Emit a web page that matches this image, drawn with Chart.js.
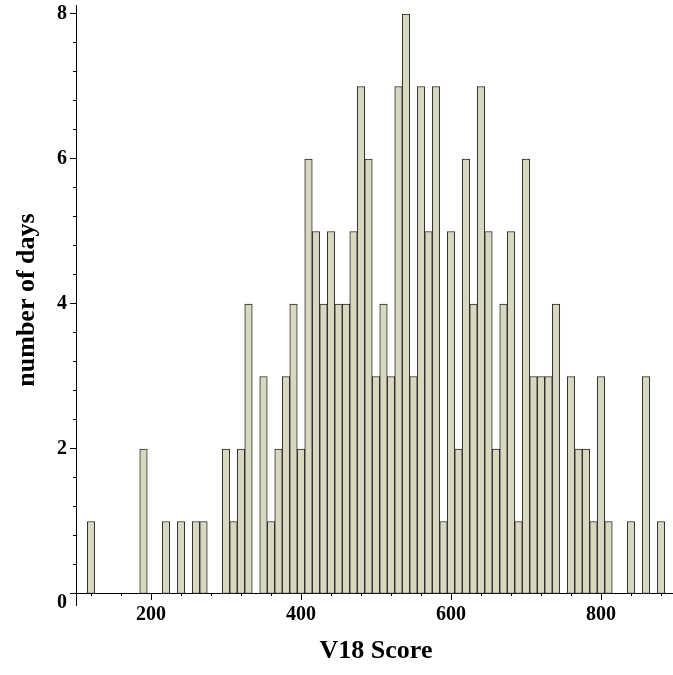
<!DOCTYPE html>
<html>
<head>
<meta charset="utf-8">
<script src="https://cdn.jsdelivr.net/npm/chart.js@4/dist/chart.umd.min.js"></script>
<style>
  html, body { margin: 0; padding: 0; background: #ffffff; }
  #wrap { width: 673px; height: 675px; position: relative; }
</style>
</head>
<body>
<div id="wrap"><canvas id="c" width="673" height="675"></canvas></div>
<script>
// Histogram bins: centre of each 10-unit bin (115-125 -> 120, ... 875-885 -> 880)
const binCenters = [
  120,130,140,150,160,170,180,190,200,210,
  220,230,240,250,260,270,280,290,300,310,
  320,330,340,350,360,370,380,390,400,410,
  420,430,440,450,460,470,480,490,500,510,
  520,530,540,550,560,570,580,590,600,610,
  620,630,640,650,660,670,680,690,700,710,
  720,730,740,750,760,770,780,790,800,810,
  820,830,840,850,860,870,880
];
// number of days in each bin
const dayCounts = [
  1,0,0,0,0,0,0,2,0,0,
  1,0,1,0,1,1,0,0,2,1,
  2,4,0,3,1,2,3,4,2,6,
  5,4,5,4,4,5,7,6,3,4,
  3,7,8,3,7,5,7,1,5,2,
  6,4,7,5,2,4,5,1,6,3,
  3,3,4,0,3,2,2,1,3,1,
  0,0,1,0,3,0,1
];
const xTicks = [120,160,200,240,280,320,360,400,440,480,520,560,600,640,680,720,760,800,840,880];
const xLabelled = [200,400,600,800];
const yTicks = [0,0.4,0.8,1.2,1.6,2,2.4,2.8,3.2,3.6,4,4.4,4.8,5.2,5.6,6,6.4,6.8,7.2,7.6,8];
const yLabelled = [2,4,6,8];
const yZeroLabel = [0];
const xTitle = 'V18 Score';
const yTitle = 'number of days';

const tickFont = { family: 'Liberation Serif', size: 20, weight: 'bold' };
const titleFont = 'bold 26px "Liberation Serif"';

const points = binCenters.map((x, i) => ({ x: x, y: dayCounts[i] === 0 ? null : dayCounts[i] }));

function setTicks(list) {
  return function (scale) { scale.ticks = list.map(v => ({ value: v })); };
}
function noPad(scale) {
  scale.paddingLeft = 0; scale.paddingRight = 0; scale.paddingTop = 0; scale.paddingBottom = 0;
}
function isLabelled(list) {
  return function (ctx) { return ctx.tick && list.indexOf(ctx.tick.value) !== -1; };
}
const xMajor = isLabelled(xLabelled);
const yMajor = isLabelled(yLabelled.concat(yZeroLabel));

const yRange = { type: 'linear', min: -0.152, max: 8.124 };

const axisTitles = {
  id: 'axisTitles',
  afterDraw(chart) {
    const ctx = chart.ctx;
    ctx.save();
    ctx.fillStyle = '#000';
    ctx.font = titleFont;
    ctx.textAlign = 'center';
    ctx.textBaseline = 'middle';
    ctx.fillText(xTitle, 376, 651);
    ctx.translate(27, 300);
    ctx.rotate(-Math.PI / 2);
    ctx.fillText(yTitle, 0, 0);
    ctx.restore();
  }
};

new Chart(document.getElementById('c'), {
  type: 'bar',
  data: {
    datasets: [{
      data: points,
      backgroundColor: '#d8d8c0',
      borderColor: '#262626',
      borderWidth: 1,
      borderSkipped: false,
      barPercentage: 1,
      categoryPercentage: 1,
      xAxisID: 'x',
      yAxisID: 'y'
    }]
  },
  options: {
    responsive: false,
    animation: false,
    events: [],
    layout: { padding: { left: 70, right: 0, top: 5, bottom: 70 } },
    plugins: { legend: { display: false }, tooltip: { enabled: false }, title: { display: false } },
    scales: {
      x: {
        type: 'linear', min: 92, max: 896, position: { y: 0 }, offset: false,
        afterBuildTicks: setTicks(xTicks),
        afterFit: noPad,
        grid: {
          drawOnChartArea: false, drawTicks: true, offset: false, tickLength: 6, color: '#000',
          tickBorderDash: ctx => xMajor(ctx) ? [] : [2, 20]
        },
        border: { display: true, color: '#000', width: 1 },
        ticks: {
          display: true, color: '#000', font: tickFont, padding: 3, maxRotation: 0, autoSkip: false,
          callback: v => (xLabelled.indexOf(v) !== -1 ? String(v) : '')
        }
      },
      y: Object.assign({}, yRange, {
        position: { x: 100 },
        afterBuildTicks: setTicks(yTicks),
        afterFit: noPad,
        grid: {
          drawOnChartArea: false, drawTicks: true, tickLength: 6, color: '#000',
          tickBorderDash: ctx => yMajor(ctx) ? [] : [3, 20]
        },
        border: { display: true, color: '#000', width: 1 },
        ticks: { display: false }
      }),
      yLabels: Object.assign({}, yRange, {
        position: { x: 88 },
        afterBuildTicks: setTicks(yLabelled),
        afterFit: noPad,
        grid: { display: false, drawOnChartArea: false },
        border: { display: false },
        ticks: { display: true, color: '#000', font: tickFont, padding: 0, autoSkip: false,
                 callback: v => String(v) }
      }),
      yZero: Object.assign({}, yRange, {
        position: { x: 88 },
        afterBuildTicks: setTicks(yZeroLabel),
        afterFit: noPad,
        grid: { display: false, drawOnChartArea: false },
        border: { display: false },
        ticks: { display: true, color: '#000', font: tickFont, padding: 0, labelOffset: 9, autoSkip: false,
                 callback: v => String(v) }
      })
    }
  },
  plugins: [axisTitles]
});
</script>
</body>
</html>
